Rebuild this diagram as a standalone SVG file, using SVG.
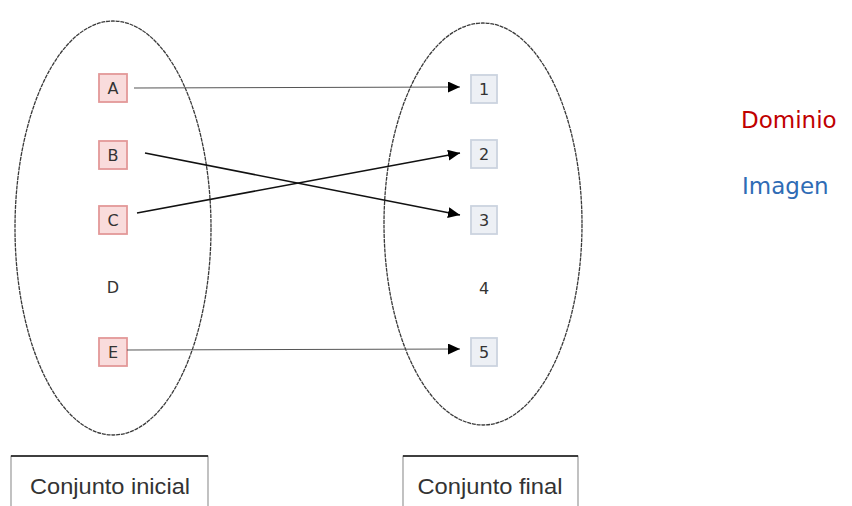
<svg xmlns="http://www.w3.org/2000/svg" width="852" height="506" viewBox="0 0 852 506">
<style>
.set{fill:none;stroke:#3a3a3a;stroke-width:1.3;stroke-dasharray:4 0.8}
.dom rect{fill:#f9dcdc;stroke:#e39898;stroke-width:1.8}
.img rect{fill:#edf0f5;stroke:#cbd3df;stroke-width:1.8}
.lbl{font-family:"DejaVu Sans",Verdana,sans-serif;font-size:16px;fill:#333;text-anchor:middle}
.cap{font-family:"Liberation Sans",Arial,sans-serif;font-size:22px;fill:#333;text-anchor:middle}
.legend{font-family:"DejaVu Sans",Verdana,sans-serif;font-size:23px}
.thin{stroke:#555;stroke-width:1;fill:none}
.thick{stroke:#111;stroke-width:1.6;fill:none}
</style>
<defs>
<marker id="ah" markerUnits="userSpaceOnUse" markerWidth="13" markerHeight="11" refX="12" refY="5.5" orient="auto">
<path d="M0,0 L12,5.5 L0,11 Z" fill="#000"/>
</marker>
</defs>
<rect width="852" height="506" fill="#fff"/>
<g id="set-initial">
<ellipse class="set" cx="113" cy="228" rx="98" ry="207"/>
</g>
<g id="set-final">
<ellipse class="set" cx="483" cy="224" rx="99" ry="201"/>
</g>
<g id="A" class="dom"><rect x="99" y="74" width="28" height="28"/><text class="lbl" x="113" y="94">A</text></g>
<g id="B" class="dom"><rect x="99" y="141" width="28" height="28"/><text class="lbl" x="113" y="161">B</text></g>
<g id="C" class="dom"><rect x="99" y="206" width="28" height="28"/><text class="lbl" x="113" y="226">C</text></g>
<g id="D"><text class="lbl" x="113" y="293">D</text></g>
<g id="E" class="dom"><rect x="99" y="338" width="28" height="28"/><text class="lbl" x="113" y="358">E</text></g>
<g id="n1" class="img"><rect x="471" y="75" width="26" height="28"/><text class="lbl" x="484" y="95">1</text></g>
<g id="n2" class="img"><rect x="471" y="140" width="26" height="28"/><text class="lbl" x="484" y="160">2</text></g>
<g id="n3" class="img"><rect x="471" y="206" width="26" height="28"/><text class="lbl" x="484" y="226">3</text></g>
<g id="n4"><text class="lbl" x="484" y="294">4</text></g>
<g id="n5" class="img"><rect x="471" y="338" width="26" height="28"/><text class="lbl" x="484" y="358">5</text></g>
<g id="connectors">
<line class="thin" x1="134" y1="88" x2="460" y2="87" marker-end="url(#ah)"/>
<line class="thick" x1="145" y1="153" x2="460" y2="215" marker-end="url(#ah)"/>
<line class="thick" x1="137" y1="213" x2="460" y2="153" marker-end="url(#ah)"/>
<line class="thin" x1="127" y1="350" x2="460" y2="349" marker-end="url(#ah)"/>
</g>
<g id="cap-initial">
<path d="M11,506 V456 H208 V506" fill="none" stroke="#999" stroke-width="1.2"/>
<line x1="11" y1="456" x2="208" y2="456" stroke="#111" stroke-width="1.5"/>
<text class="cap" x="110" y="494" textLength="160" lengthAdjust="spacingAndGlyphs">Conjunto inicial</text>
</g>
<g id="cap-final">
<path d="M403,506 V456 H578 V506" fill="none" stroke="#999" stroke-width="1.2"/>
<line x1="403" y1="456" x2="578" y2="456" stroke="#111" stroke-width="1.5"/>
<text class="cap" x="490" y="494" textLength="145" lengthAdjust="spacingAndGlyphs">Conjunto final</text>
</g>
<g id="dominio"><text class="legend" x="741" y="128" fill="#c00000">Dominio</text></g>
<g id="imagen"><text class="legend" x="742" y="194" fill="#2f6cb5">Imagen</text></g>
</svg>
